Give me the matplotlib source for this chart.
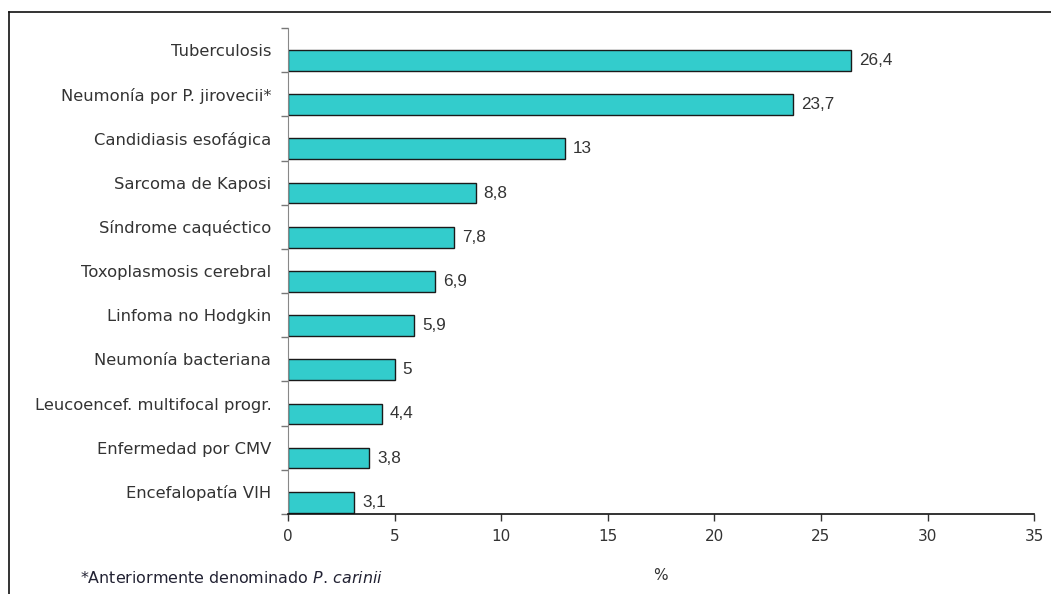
import matplotlib
matplotlib.use("Agg")
import matplotlib.pyplot as plt
from matplotlib.lines import Line2D
import numpy as np

categories = [
    "Tuberculosis",
    "Neumonía por P. jirovecii*",
    "Candidiasis esofágica",
    "Sarcoma de Kaposi",
    "Síndrome caquéctico",
    "Toxoplasmosis cerebral",
    "Linfoma no Hodgkin",
    "Neumonía bacteriana",
    "Leucoencef. multifocal progr.",
    "Enfermedad por CMV",
    "Encefalopatía VIH",
]
values = [26.4, 23.7, 13, 8.8, 7.8, 6.9, 5.9, 5, 4.4, 3.8, 3.1]
value_labels = ["26,4", "23,7", "13", "8,8", "7,8", "6,9", "5,9", "5", "4,4", "3,8", "3,1"]
x_ticks = [0, 5, 10, 15, 20, 25, 30, 35]

text_color = "#333333"
bar_color = "#33cccc"

fig = plt.figure(figsize=(10.51, 5.94), dpi=100)
ax = fig.add_axes([0.274, 0.1347, 0.710, 0.8182])

pos = np.arange(len(categories))
bar_h = 0.47
# bars sit in the lower half of each category band
ax.barh(pos + bar_h / 2, values, height=bar_h, color=bar_color,
        edgecolor="#1a1a1a", linewidth=1.0)
for y, v, lab in zip(pos, values, value_labels):
    ax.text(v + 0.38, y + bar_h / 2, lab, va="center", ha="left",
            fontsize=12.3, family="Liberation Sans", color=text_color)

ax.set_xlim(0, 35)
ax.set_ylim(len(categories) - 0.5, -0.5)

ax.set_xticks(x_ticks)
ax.set_xticklabels([str(t) for t in x_ticks])
ax.set_yticks(np.arange(len(categories) + 1) - 0.5)
ax.set_yticklabels([])
ax.set_yticks(pos, minor=True)
ax.set_yticklabels(categories, minor=True)

ax.tick_params(axis="y", which="major", length=5, color="#777777", width=1)
ax.tick_params(axis="y", which="minor", length=0, pad=12, labelsize=11.8,
               labelcolor=text_color)
ax.tick_params(axis="x", length=5, width=1, color="#333333", pad=6,
               labelsize=11, labelcolor=text_color)

for side in ("top", "right"):
    ax.spines[side].set_visible(False)
ax.spines["left"].set_color("#888888")
ax.spines["bottom"].set_color("#111111")
ax.spines["bottom"].set_linewidth(1.2)

# outer frame lines
fig.add_artist(Line2D([8.5 / 1051, 8.5 / 1051], [0, 1 - 12 / 594],
                      transform=fig.transFigure, color="#111111", lw=1.2))
fig.add_artist(Line2D([8.5 / 1051, 1], [1 - 12 / 594, 1 - 12 / 594],
                      transform=fig.transFigure, color="#111111", lw=1.2))

fig.text(80 / 1051, 1 - 578 / 594,
         r"*Anteriormente denominado $\it{P.\,carinii}$",
         fontsize=11.4, color="#222233", va="center", ha="left")
fig.text(660 / 1051, 1 - 575 / 594, "%", fontsize=11, color=text_color,
         va="center", ha="center")

fig.savefig("out.png", dpi=100)
